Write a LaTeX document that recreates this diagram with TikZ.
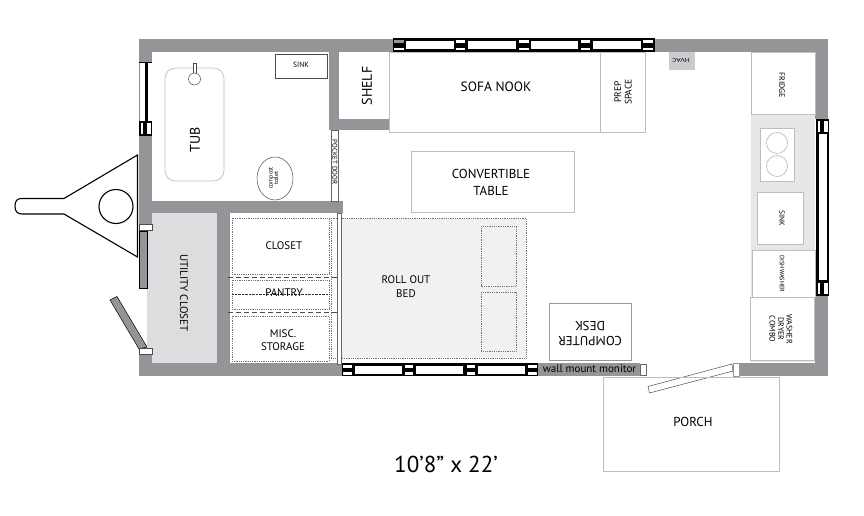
\documentclass[tikz,border=0pt]{standalone}
\usepackage{fontspec}
\setmainfont{PT Sans}
\definecolor{wallc}{HTML}{939598}
\definecolor{linec}{HTML}{BCBEC0}
\definecolor{utilc}{HTML}{DCDDDE}
\definecolor{counterc}{HTML}{E6E7E8}
\definecolor{bedc}{HTML}{F1F1F2}
\newcommand{\hmull}[2]{\fill[black] (#1,39) rectangle (#2,52);\fill[white] (#1+1,40.5) rectangle (#2-1,43.5);\fill[white] (#1+1,48.5) rectangle (#2-1,50.5);}
\newcommand{\bmull}[2]{\fill[black] (#1,363) rectangle (#2,376);\fill[white] (#1+1,364.5) rectangle (#2-1,367.5);\fill[white] (#1+1,372) rectangle (#2-1,374.5);}
\newcommand{\vmull}[2]{\fill[black] (#1,#2) rectangle (#1+13,#2+14.5);\fill[white] (#1+1.5,#2+2) rectangle (#1+4,#2+12.5);\fill[white] (#1+8,#2+2) rectangle (#1+11.5,#2+12.5);}
\tikzset{
  wall/.style={fill=wallc,draw=none},
  thin line/.style={draw=linec,line width=.7pt},
  box/.style={draw=linec,line width=.7pt,fill=white},
  dotbox/.style={draw=black!55,line width=.35pt,dash pattern=on .7pt off 1.1pt},
  lab/.style={font=\fontsize{#1}{#1}\selectfont,align=center,inner sep=0pt,text=black},
  lab/.default=12
}
\begin{document}
\begin{tikzpicture}[x=1pt,y=-1pt]
\useasboundingbox (0,0) rectangle (864,516);
% utility + counter fills
\fill[utilc] (147,213) rectangle (217,363);
\fill[counterc] (751,114) rectangle (815,362);
% walls
\fill[wall] (139,39) rectangle (393,52);
\fill[wall] (655,39) rectangle (828,52);
\fill[wall] (139,39) rectangle (152,62);
\fill[wall] (139,136) rectangle (152,224);
\fill[wall] (139,354) rectangle (152,376);
\fill[wall] (139,363) rectangle (342,376);
\fill[wall] (538,363) rectangle (640,376);
\fill[wall] (740,363) rectangle (828,376);
\fill[wall] (815,39) rectangle (828,119);
\fill[wall] (815,295) rectangle (828,376);
\fill[wall] (329,52) rectangle (339,130);
\fill[wall] (329,119) rectangle (389,130);
\fill[wall] (152,201) rectangle (343,213);
\fill[wall] (217,213) rectangle (230,363);
% bed and storage
\fill[bedc] (342,218) rectangle (526,358);
\draw[dotbox] (331,218) rectangle (526,358);
\draw[dotbox] (481,226) rectangle (516,286);
\draw[dotbox] (481,292) rectangle (516,351);
\draw[box,draw=black!60] (337,213) rectangle (341.5,364);
\draw[dotbox] (232,218) rectangle (329,274);
\draw[dotbox] (232,280) rectangle (329,309);
\draw[dotbox] (232,316) rectangle (329,361);
\draw[black!70,line width=.5pt,dash pattern=on 5pt off 3pt] (228,277.5) -- (337,277.5);
\draw[black!70,line width=.5pt,dash pattern=on 5pt off 3pt] (228,312.5) -- (337,312.5);
\draw[black!80,line width=.4pt,densely dotted] (232,294) -- (329,294);
% left window
\fill[white] (139,62) rectangle (152,121);
\draw[black!45,line width=.4pt] (139,62) -- (139,121);
\draw[black,line width=1pt] (139,62.5) -- (152,62.5);
\fill[black] (144.5,62) rectangle (148,121);
\vmull{139}{121}
% left doors
\draw[box,draw=black!70] (139,224.5) rectangle (152,230);
\draw[fill=wallc,draw=black,line width=.5pt] (139,231) rectangle (147,288);
\draw[fill=wallc,draw=black,line width=.5pt] (110,300) -- (117,296.5) -- (147,347) -- (139,349) -- cycle;
\draw[box,draw=black!70] (139,348.5) rectangle (152,354);
% hitch
\draw[black,line width=1.1pt] (137.5,155) -- (64,198.5) -- (22,198.5)
  .. controls (17,198.5) and (15,201) .. (15,206) .. controls (15,211) and (17,214) .. (22,214)
  -- (64,214) -- (137.5,257) -- cycle;
\draw[black,line width=1.1pt] (116,206.5) circle[radius=17];
% top window
\fill[black] (393,38.5) rectangle (655,52);
\foreach \a/\b in {406/454,468/516,530.5/578,593/640.5}{\fill[white] (\a,41) rectangle (\b,49.5);}
\hmull{393}{405}\hmull{455}{466}\hmull{518}{530}\hmull{580}{591}\hmull{642}{654}
\fill[wallc] (394,40.5) rectangle (404,43.5);
% bottom window
\fill[black] (342,363) rectangle (538,376);
\foreach \a/\b in {355/402,416/463,478/525}{\fill[white] (\a,365.5) rectangle (\b,373.5);}
\bmull{342}{353}\bmull{404}{414}\bmull{466}{476}\bmull{527}{538}
% right window
\fill[black] (816,133) rectangle (829,283);
\fill[white] (819,133) rectangle (827,280);
\vmull{816}{119}
\vmull{816}{281}
% bath
\draw[thin line] (165,80) .. controls (165,72) and (169,68) .. (177,68) -- (212,68)
  .. controls (220,68) and (224,72) .. (224,80) -- (224,169) .. controls (224,177) and (220,181) .. (212,181)
  -- (177,181) .. controls (169,181) and (165,177) .. (165,169) -- cycle;
\draw[black!70,line width=.5pt,fill=white] (193,63.5) rectangle (196.5,73);
\draw[black!70,line width=.5pt,fill=white] (194.5,79) circle[radius=6];
\draw[black!70,line width=.7pt,fill=white] (275,54) rectangle (327,78);
\draw[black!70,line width=.5pt] (275,178.5) ellipse[x radius=18,y radius=21.5];
\node[lab=14,rotate=90] (tub) at (195,140) {TUB};
\node[lab=7.5] (sink1) at (301,65) {SINK};
\node[lab=6,rotate=90] (toilet) at (273.5,178) {compost\\[-.5pt]toilet};
% shelf, sofa
\node[lab=14,rotate=90] (shelf) at (367,86) {SHELF};
\draw[linec,line width=.7pt] (389,52) rectangle (645,132);
\draw[linec,line width=.7pt] (600.5,52) -- (600.5,132);
\node[lab=13.5] (sofa) at (496,87) {SOFA NOOK};
\node[lab=9.5,rotate=90] (prep) at (623,92) {PREP\\[1pt]SPACE};
% pocket door
\draw[draw=black!60,line width=.5pt,fill=white] (331,130) rectangle (338.5,201);
\node[lab=7,rotate=-90] (pocket) at (334.8,162) {POCKET DOOR};
% table
\draw[thin line] (411,151) rectangle (574,212);
\node[lab=13] (table) at (491,182.5) {CONVERTIBLE\\[4pt]TABLE};
% labels
\node[lab=11] (bed) at (406,286.5) {ROLL OUT\\[2.5pt]BED};
\node[lab=11] (closet) at (284,246) {CLOSET};
\node[lab=11] (pantry) at (284,293) {PANTRY};
\node[lab=11] (misc) at (283,340) {MISC.\\[2.5pt]STORAGE};
\node[lab=11,rotate=-90] (util) at (184,293) {UTILITY CLOSET};
% kitchen
\fill[linec!80!white] (669,52) rectangle (695,70);
\node[lab=5.5,rotate=180,xscale=1.4] (hvac) at (681,60.5) {HVAC};
\draw[box] (751,52) rectangle (815,114);
\node[lab=8,rotate=-90] (fridge) at (782,85) {FRIDGE};
\draw[box] (760,128) rectangle (794,181);
\draw[thin line] (777,143) circle[radius=10.5];
\draw[thin line] (777,166) circle[radius=10.5];
\draw[box] (757.5,192) rectangle (803,244);
\node[lab=7.5,rotate=-90] (sink2) at (782,218) {SINK};
\draw[box] (752,250) rectangle (815,297);
\node[lab=6.3,rotate=-90] (dish) at (782,274) {DISHWASHER};
\draw[box] (750.5,297) rectangle (814,360);
\node[lab=8,rotate=-90] (washer) at (781,329) {WASHER\\[.5pt]DRYER\\[.5pt]COMBO};
% desk
\draw[draw=linec!80!black,line width=.7pt,fill=white] (549,303) rectangle (631,360);
\node[lab=13,rotate=180] (desk) at (590,334) {COMPUTER\\[2pt]DESK};
\node[lab=11] (monitor) at (589.5,368.5) {wall mount monitor};
% entry door
\draw[box,draw=black!60] (640,364) rectangle (646,375.5);
\draw[box,draw=linec!80!black] (733,363) rectangle (739.5,376);
\draw[draw=black!70,line width=.5pt,fill=white] (648,386.5) -- (732,364) -- (733,371) -- (649.5,393) -- cycle;
% porch
\draw[thin line] (603,377) rectangle (779,471);
\node[lab=13] (porch) at (693,422) {PORCH};
\node[lab=23] (title) at (446,464) {10'8'' x 22'};
\end{tikzpicture}
\end{document}
